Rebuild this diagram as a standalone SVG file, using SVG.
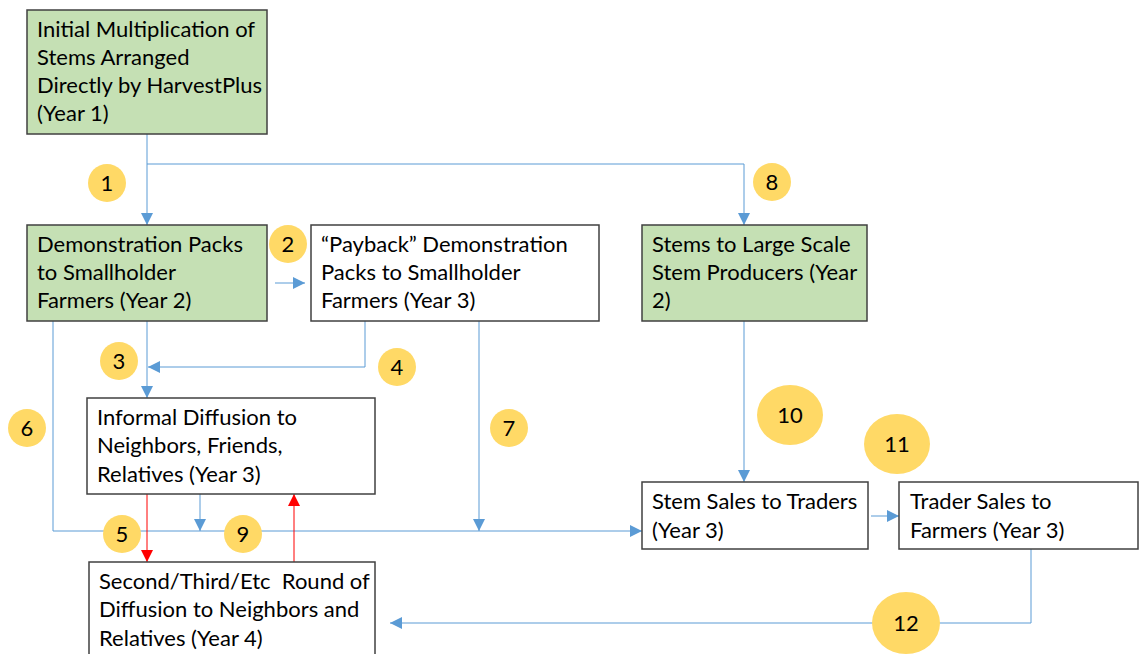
<svg xmlns="http://www.w3.org/2000/svg" width="1140" height="654" viewBox="0 0 1140 654">
<style>
.box{stroke:#404040;stroke-width:1.5}
.g{fill:#C5E0B4}
.w{fill:#FFFFFF}
.t{font-family:Lato,"Liberation Sans",sans-serif;font-size:22px;fill:#000;white-space:pre}
.c{fill:#FFD966}
.n{font-family:Lato,"Liberation Sans",sans-serif;font-size:22px;fill:#000;text-anchor:middle}
.b{fill:none;stroke:#5B9BD5;stroke-width:1}
.r{fill:none;stroke:#FF0000;stroke-width:1}
</style>
<defs>
<marker id="ab" markerUnits="userSpaceOnUse" markerWidth="12" markerHeight="12" refX="12" refY="6" orient="auto"><path d="M0,0 L12,6 L0,12 z" fill="#5B9BD5"/></marker>
<marker id="ar" markerUnits="userSpaceOnUse" markerWidth="12" markerHeight="12" refX="12" refY="6" orient="auto"><path d="M0,0 L12,6 L0,12 z" fill="#FF0000"/></marker>
</defs>
<rect width="1140" height="654" fill="#FFFFFF"/>
<g id="connectors">
<path class="b" d="M147,134 V225" marker-end="url(#ab)"/>
<path class="b" d="M147,164 H744 V225" marker-end="url(#ab)"/>
<path class="b" d="M275,283 H305" marker-end="url(#ab)"/>
<path class="b" d="M147,321 V398" marker-end="url(#ab)"/>
<path class="b" d="M365,321 V367 H148" marker-end="url(#ab)"/>
<path class="b" d="M53,321 V531 H642" marker-end="url(#ab)"/>
<path class="b" d="M479,321 V531" marker-end="url(#ab)"/>
<path class="b" d="M200,494 V531" marker-end="url(#ab)"/>
<path class="r" d="M147,494 V562" marker-end="url(#ar)"/>
<path class="r" d="M294,562 V494" marker-end="url(#ar)"/>
<path class="b" d="M744,321 V482" marker-end="url(#ab)"/>
<path class="b" d="M871,516 H899" marker-end="url(#ab)"/>
<path class="b" d="M1031,549 V623 H390" marker-end="url(#ab)"/>
</g>
<g id="n1"><rect class="box g" x="27" y="10" width="240" height="124"/>
<text class="t" x="37" y="37">Initial Multiplication of</text>
<text class="t" x="37" y="65">Stems Arranged</text>
<text class="t" x="37" y="93">Directly by HarvestPlus</text>
<text class="t" x="37" y="121">(Year 1)</text></g>
<g id="n2"><rect class="box g" x="27" y="225" width="240" height="96"/>
<text class="t" x="37" y="252">Demonstration Packs</text>
<text class="t" x="37" y="280">to Smallholder</text>
<text class="t" x="37" y="308">Farmers (Year 2)</text></g>
<g id="n3"><rect class="box w" x="311" y="225" width="288" height="96"/>
<text class="t" x="321" y="252">“Payback” Demonstration</text>
<text class="t" x="321" y="280">Packs to Smallholder</text>
<text class="t" x="321" y="308">Farmers (Year 3)</text></g>
<g id="n4"><rect class="box g" x="642" y="225" width="225" height="96"/>
<text class="t" x="652" y="252">Stems to Large Scale</text>
<text class="t" x="652" y="280">Stem Producers (Year</text>
<text class="t" x="652" y="308">2)</text></g>
<g id="n5"><rect class="box w" x="87" y="398" width="288" height="96"/>
<text class="t" x="97" y="425">Informal Diffusion to</text>
<text class="t" x="97" y="453">Neighbors, Friends,</text>
<text class="t" x="97" y="482">Relatives (Year 3)</text></g>
<g id="n6"><rect class="box w" x="89" y="562" width="286" height="100"/>
<text class="t" x="99" y="589">Second/Third/Etc  Round of</text>
<text class="t" x="99" y="617">Diffusion to Neighbors and</text>
<text class="t" x="99" y="646">Relatives (Year 4)</text></g>
<g id="n7"><rect class="box w" x="642" y="482" width="226" height="67"/>
<text class="t" x="652" y="509">Stem Sales to Traders</text>
<text class="t" x="652" y="538">(Year 3)</text></g>
<g id="n8"><rect class="box w" x="899" y="482" width="239" height="67"/>
<text class="t" x="910" y="509">Trader Sales to</text>
<text class="t" x="910" y="538">Farmers (Year 3)</text></g>
<g id="l1"><circle class="c" cx="107" cy="183" r="19"/><text class="n" x="107" y="191">1</text></g>
<g id="l2"><circle class="c" cx="288" cy="244" r="19"/><text class="n" x="288" y="252">2</text></g>
<g id="l3"><circle class="c" cx="119" cy="361" r="19"/><text class="n" x="119" y="369">3</text></g>
<g id="l4"><circle class="c" cx="397" cy="367" r="19"/><text class="n" x="397" y="375">4</text></g>
<g id="l5"><circle class="c" cx="122" cy="534" r="19"/><text class="n" x="122" y="542">5</text></g>
<g id="l6"><circle class="c" cx="27" cy="428" r="19"/><text class="n" x="27" y="436">6</text></g>
<g id="l7"><circle class="c" cx="509" cy="428" r="19"/><text class="n" x="509" y="436">7</text></g>
<g id="l8"><circle class="c" cx="772" cy="182" r="19"/><text class="n" x="772" y="190">8</text></g>
<g id="l9"><circle class="c" cx="243" cy="534" r="19"/><text class="n" x="243" y="542">9</text></g>
<g id="l10"><ellipse class="c" cx="790" cy="415" rx="33" ry="30"/><text class="n" x="790" y="423">10</text></g>
<g id="l11"><ellipse class="c" cx="897" cy="444" rx="33" ry="30"/><text class="n" x="897" y="452">11</text></g>
<g id="l12"><ellipse class="c" cx="906" cy="623" rx="34" ry="31"/><text class="n" x="906" y="631">12</text></g>
</svg>
